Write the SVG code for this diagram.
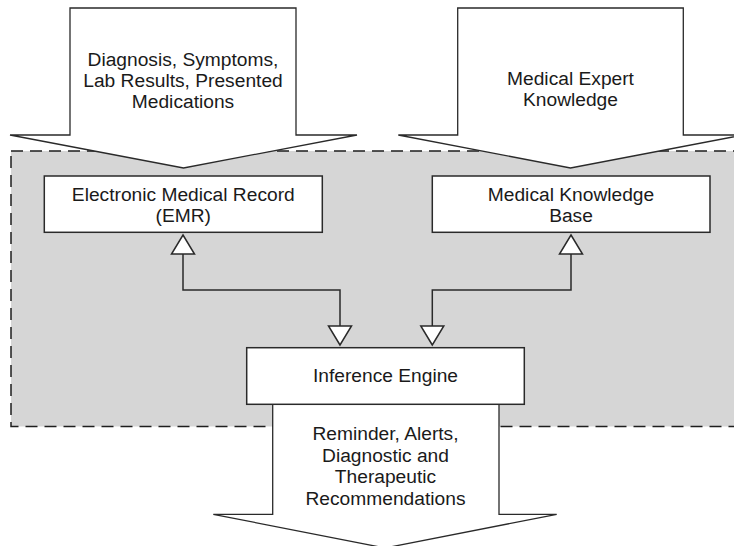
<svg xmlns="http://www.w3.org/2000/svg" width="734" height="546" viewBox="0 0 734 546">
  <defs>
    <style>
      .bg { fill: #ffffff; }
      .zone { fill: #d6d6d6; stroke: #1e1e1e; stroke-width: 1.5; stroke-dasharray: 12 7; }
      .flow { fill: #ffffff; stroke: #2a2a2a; stroke-width: 1.3; stroke-linejoin: miter; }
      .box { fill: #ffffff; stroke: #2a2a2a; stroke-width: 1.5; }
      .link { fill: none; stroke: #2a2a2a; stroke-width: 1.5; }
      .head { fill: #ffffff; stroke: #2a2a2a; stroke-width: 1.5; stroke-linejoin: miter; }
      text { font-family: "Liberation Sans", Arial, Helvetica, sans-serif; font-size: 19.2px; fill: #1a1a1a; text-anchor: middle; }
    </style>
  </defs>

  <rect class="bg" x="0" y="0" width="734" height="546"/>

  <!-- system boundary -->
  <rect id="system" class="zone" x="11" y="151" width="740" height="275.5"/>

  <!-- input arrow: patient data -->
  <g id="patient-data">
    <path class="flow" d="M70,8 H296 V135 H357 L183.5,168 L10,135 H70 Z"/>
    <text x="183" y="65.5">Diagnosis, Symptoms,</text>
    <text x="183" y="86.5">Lab Results, Presented</text>
    <text x="183" y="107.5">Medications</text>
  </g>

  <!-- input arrow: expert knowledge -->
  <g id="expert-knowledge">
    <path class="flow" d="M457.7,8 H683.3 V135 H743 L570.5,168 L398.3,135 H457.7 Z"/>
    <text x="570.5" y="85">Medical Expert</text>
    <text x="570.5" y="106">Knowledge</text>
  </g>

  <!-- output arrow: recommendations -->
  <g id="recommendations">
    <path class="flow" d="M272.7,404 H499 V514.3 H556.7 L385,548 L213.3,514.3 H272.7 Z"/>
    <text x="385.5" y="440">Reminder, Alerts,</text>
    <text x="385.5" y="461.5">Diagnostic and</text>
    <text x="385.5" y="483">Therapeutic</text>
    <text x="385.5" y="505">Recommendations</text>
  </g>

  <!-- connectors -->
  <g id="connectors">
    <path class="link" d="M183,254 V290 H340 V326"/>
    <path class="link" d="M571,254 V290 H432.3 V326"/>
    <path class="head" d="M183,235 L194.5,254 H171.5 Z"/>
    <path class="head" d="M571,235 L582.5,254 H559.5 Z"/>
    <path class="head" d="M340,345 L328.5,326 H351.5 Z"/>
    <path class="head" d="M432.3,345 L420.8,326 H443.8 Z"/>
  </g>

  <g id="emr">
    <rect class="box" x="44.3" y="176" width="278" height="56.3"/>
    <text x="183.3" y="200.5">Electronic Medical Record</text>
    <text x="183.3" y="221.5">(EMR)</text>
  </g>

  <g id="knowledge-base">
    <rect class="box" x="432.3" y="176" width="277.7" height="56.3"/>
    <text x="571" y="200.5">Medical Knowledge</text>
    <text x="571" y="221.5">Base</text>
  </g>

  <g id="inference-engine">
    <rect class="box" x="246.7" y="347.7" width="277.6" height="56.6"/>
    <text x="385.5" y="381.5">Inference Engine</text>
  </g>
</svg>
